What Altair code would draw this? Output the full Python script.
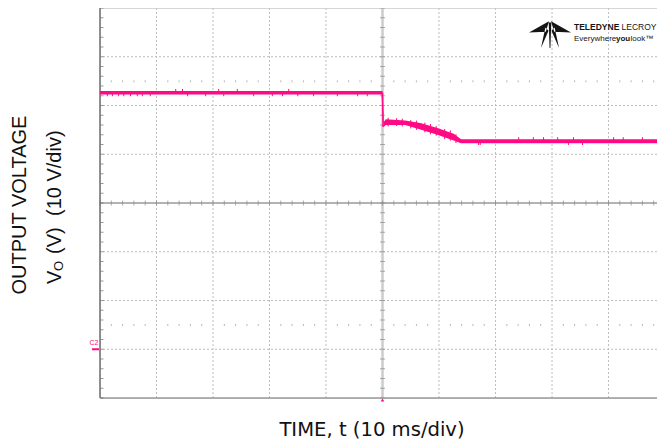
import altair as alt
import pandas as pd

# ---- trace band (time in ms relative to the step, voltage in V) ----
t_ms = [-50, -0.15, 0.0, 0.2, 0.6, 2, 4, 6.7, 9.7, 12.6, 13.9, 50]
v_hi = [53.0, 53.0, 53.0, 46.6, 47.2, 47.1, 46.9, 46.4, 45.4, 44.2, 43.1, 43.1]
v_lo = [52.25, 52.25, 48.5, 45.6, 46.0, 46.0, 46.0, 45.1, 44.0, 42.8, 42.25, 42.25]

# ---- noise spikes ----
spike_t = [-48.7, -47.8, -46.7, -45.8, -44.6, -43.4, -42.5, -41.1, -36.6, -35.4, -34.5,
           -31.3, -29.0, -28.1, -25.7, -22.8, -19.5, -17.7, -16.6, -15.0, -12.2, -8.0,
           -4.4, -2.7,
           1.0, 2.5, 3.5, 5.0, 6.0, 7.5, 8.5, 9.5, 11.0, 12.0, 13.0,
           17.0, 17.3, 24.1, 26.7, 28.5, 31.0, 33.8, 32.9, 35.4, 40.9, 42.6, 46.0]
spike_lo = [51.9, 51.9, 51.9, 51.9, 51.9, 51.9, 51.9, 51.9, 52.5, 52.5, 51.9,
            51.9, 52.5, 51.9, 52.5, 51.9, 51.9, 51.9, 52.5, 51.9, 51.9, 51.9,
            51.9, 51.9,
            45.7, 45.8, 45.7, 45.3, 45.0, 44.5, 44.1, 43.8, 43.1, 42.8, 42.3,
            41.9, 41.9, 42.6, 42.6, 42.6, 42.6, 42.6, 41.9, 41.9, 42.6, 42.6, 42.6]
spike_hi = [52.6, 52.6, 52.6, 52.6, 52.6, 52.6, 52.6, 52.6, 53.4, 53.4, 52.6,
            52.6, 53.4, 52.6, 53.4, 52.6, 52.6, 52.6, 53.4, 52.6, 52.6, 52.6,
            52.6, 52.6,
            47.5, 47.4, 47.3, 47.0, 46.9, 46.5, 46.2, 45.8, 45.2, 44.9, 44.1,
            42.7, 42.7, 43.5, 43.5, 43.5, 43.5, 43.5, 42.7, 42.7, 43.5, 43.5, 43.5]

# ---- graticule ----
x_major = [-40, -30, -20, -10, 10, 20, 30, 40]
y_major = [0, 10, 20, 40, 50, 60]
x_minor = [-50 + 2 * i for i in range(50)]
y_minor = [-10 + 2 * i for i in range(41)]
dot_rows = [55, 5]
ground_level = [0]

# visible window: screen is cut at the right edge (about 48.6 ms of 50)
X_DOM = [-50, 48.58]
Y_DOM = [-10, 70]
PINK = "#FF0A84"

xs = alt.Scale(domain=X_DOM, nice=False, zero=False)
ys = alt.Scale(domain=Y_DOM, nice=False, zero=False)


def X(f):
    return alt.X(f, type="quantitative", scale=xs, axis=None)


def Y(f):
    return alt.Y(f, type="quantitative", scale=ys, axis=None)


one = pd.DataFrame({"a": [0]})

vgrid = alt.Chart(pd.DataFrame({"t": x_major})).mark_rule(
    color="#bdbdbd", strokeWidth=1, strokeDash=[2, 2]).encode(x=X("t"))
hgrid = alt.Chart(pd.DataFrame({"v": y_major})).mark_rule(
    color="#bdbdbd", strokeWidth=1, strokeDash=[2, 2]).encode(y=Y("v"))

top_border = alt.Chart(pd.DataFrame({"v": [Y_DOM[1]]})).mark_rule(
    color="#cfcfcf", strokeWidth=1).encode(y=Y("v"))
bottom_border = alt.Chart(pd.DataFrame({"v": [Y_DOM[0]]})).mark_rule(
    color="#9a9a9a", strokeWidth=1.5).encode(y=Y("v"))
left_border = alt.Chart(pd.DataFrame({"t": [X_DOM[0]]})).mark_rule(
    color="#6e6e6e", strokeWidth=1.5).encode(x=X("t"))

center_v = alt.Chart(pd.DataFrame({"t": [0]})).mark_rule(
    color="#cccccc", strokeWidth=2.5).encode(x=X("t"))
center_h = alt.Chart(pd.DataFrame({"v": [30]})).mark_rule(
    color="#9a9a9a", strokeWidth=1.5).encode(y=Y("v"))

xm = pd.DataFrame({"t": x_minor, "v": 30})
ticks_h = alt.Chart(xm).mark_tick(
    orient="vertical", size=5, thickness=1, color="#8a8a8a").encode(x=X("t"), y=Y("v"))
ym = pd.DataFrame({"v": y_minor, "t": 0})
ticks_v = alt.Chart(ym).mark_tick(
    orient="horizontal", size=5, thickness=1, color="#8a8a8a").encode(x=X("t"), y=Y("v"))
yl = pd.DataFrame({"v": y_minor, "t": X_DOM[0]})
ticks_left = alt.Chart(yl).mark_tick(
    orient="horizontal", size=3, thickness=1, color="#6e6e6e", xOffset=2).encode(x=X("t"), y=Y("v"))

dots = pd.DataFrame([(t, v) for v in dot_rows for t in x_minor if t % 10 != 0],
                    columns=["t", "v"])
dot_layer = alt.Chart(dots).mark_tick(
    orient="vertical", size=2, thickness=1, color="#9a9a9a").encode(x=X("t"), y=Y("v"))

trace_df = pd.DataFrame({"t": t_ms, "lo": v_lo, "hi": v_hi})
trace = alt.Chart(trace_df).mark_area(color=PINK, opacity=1, clip=True).encode(
    x=X("t"), y=Y("lo"), y2="hi")
spikes = alt.Chart(pd.DataFrame({"t": spike_t, "lo": spike_lo, "hi": spike_hi})).mark_rule(
    color=PINK, strokeWidth=1).encode(x=X("t"), y=Y("lo"), y2="hi")
drop = alt.Chart(pd.DataFrame({"t": [0.0, 0.1], "v": [52.6, 45.6]})).mark_line(
    color=PINK, strokeWidth=1.5).encode(x=X("t"), y=Y("v"))

# ground marker (C2) and trigger marker
c2_bar = alt.Chart(pd.DataFrame({"v": ground_level})).mark_rule(
    color=PINK, strokeWidth=2).encode(x=alt.value(-8), x2=alt.value(-1), y=Y("v"))
c2_txt = alt.Chart(pd.DataFrame({"v": ground_level})).mark_text(
    text="C2", color=PINK, fontSize=7, font="Liberation Sans", align="center",
    baseline="bottom", dy=-3).encode(x=alt.value(-6), y=Y("v"))
trig = alt.Chart(pd.DataFrame({"t": [0], "v": [Y_DOM[0]]})).mark_point(
    shape="triangle-up", filled=True, color=PINK, size=14, opacity=1, yOffset=2).encode(
    x=X("t"), y=Y("v"))

# titles
FONT = "Liberation Sans"
INK = "#111111"
ytitle1 = alt.Chart(one).mark_text(
    text="OUTPUT VOLTAGE", angle=270, fontSize=20, font=FONT, color=INK,
    align="center", baseline="middle").encode(x=alt.value(-80), y=alt.value(197))
ytitle_v = alt.Chart(one).mark_text(
    text="V", angle=270, fontSize=20, font=FONT, color=INK,
    align="left", baseline="middle").encode(x=alt.value(-45), y=alt.value(276))
ytitle_o = alt.Chart(one).mark_text(
    text="O", angle=270, fontSize=13, font=FONT, color=INK,
    align="left", baseline="middle").encode(x=alt.value(-41), y=alt.value(263))
ytitle_p = alt.Chart(one).mark_text(
    text="(V)", angle=270, fontSize=20, font=FONT, color=INK,
    align="left", baseline="middle").encode(x=alt.value(-45), y=alt.value(246))
ytitle_rest = alt.Chart(one).mark_text(
    text="(10 V/div)", angle=270, fontSize=20, font=FONT, color=INK,
    align="left", baseline="middle").encode(x=alt.value(-45), y=alt.value(208))
xtitle = alt.Chart(one).mark_text(
    text="TIME, t (10 ms/div)", fontSize=19.6, font="DejaVu Sans", color=INK,
    align="center", baseline="alphabetic").encode(x=alt.value(272), y=alt.value(428))

# logo
ICON = ("M -0.05 -0.66 L -1 -0.12 L -0.2 -0.16 Z "
        "M 0.05 -0.66 L 1 -0.12 L 0.2 -0.16 Z "
        "M -0.22 -0.36 L -0.07 -0.2 L -0.43 0.62 Z "
        "M 0.22 -0.36 L 0.07 -0.2 L 0.43 0.62 Z "
        "M -0.06 -0.6 L 0.06 -0.6 L 0.02 0.62 L -0.02 0.62 Z")
LK = "#151515"
logo_icon = alt.Chart(one).mark_point(
    shape=ICON, filled=True, color=LK, opacity=1, size=1764, strokeWidth=0).encode(
    x=alt.value(450), y=alt.value(27))
logo1 = alt.Chart(one).mark_text(
    text="TELEDYNE", fontSize=8.5, fontWeight="bold", font=FONT,
    color=LK, align="left", baseline="alphabetic").encode(x=alt.value(474), y=alt.value(22))
logo2 = alt.Chart(one).mark_text(
    text="LECROY", fontSize=8.5, font=FONT,
    color=LK, align="left", baseline="alphabetic").encode(x=alt.value(521.5), y=alt.value(22))
logo3 = alt.Chart(one).mark_text(
    text="Everywhere", fontSize=8, font=FONT,
    color=LK, align="left", baseline="alphabetic").encode(x=alt.value(474), y=alt.value(33))
logo4 = alt.Chart(one).mark_text(
    text="you", fontSize=8, fontWeight="bold", font=FONT,
    color=LK, align="left", baseline="alphabetic").encode(x=alt.value(516), y=alt.value(33))
logo5 = alt.Chart(one).mark_text(
    text="look™", fontSize=8, font=FONT,
    color=LK, align="left", baseline="alphabetic").encode(x=alt.value(530.5), y=alt.value(33))

chart = alt.layer(
    vgrid, hgrid, top_border, center_v, center_h, ticks_h, ticks_v, dot_layer,
    bottom_border, left_border, ticks_left,
    trace, spikes, drop, c2_bar, c2_txt, trig,
    ytitle1, ytitle_v, ytitle_o, ytitle_p, ytitle_rest, xtitle,
    logo_icon, logo1, logo2, logo3, logo4, logo5,
).properties(
    width=557, height=390,
    autosize=alt.AutoSizeParams(type="none"),
    padding={"left": 92, "top": 0, "right": 0, "bottom": 44},
).configure_view(stroke=None).configure(background="white")

chart.save("out.html", embed_options={"renderer": "svg", "actions": False})
